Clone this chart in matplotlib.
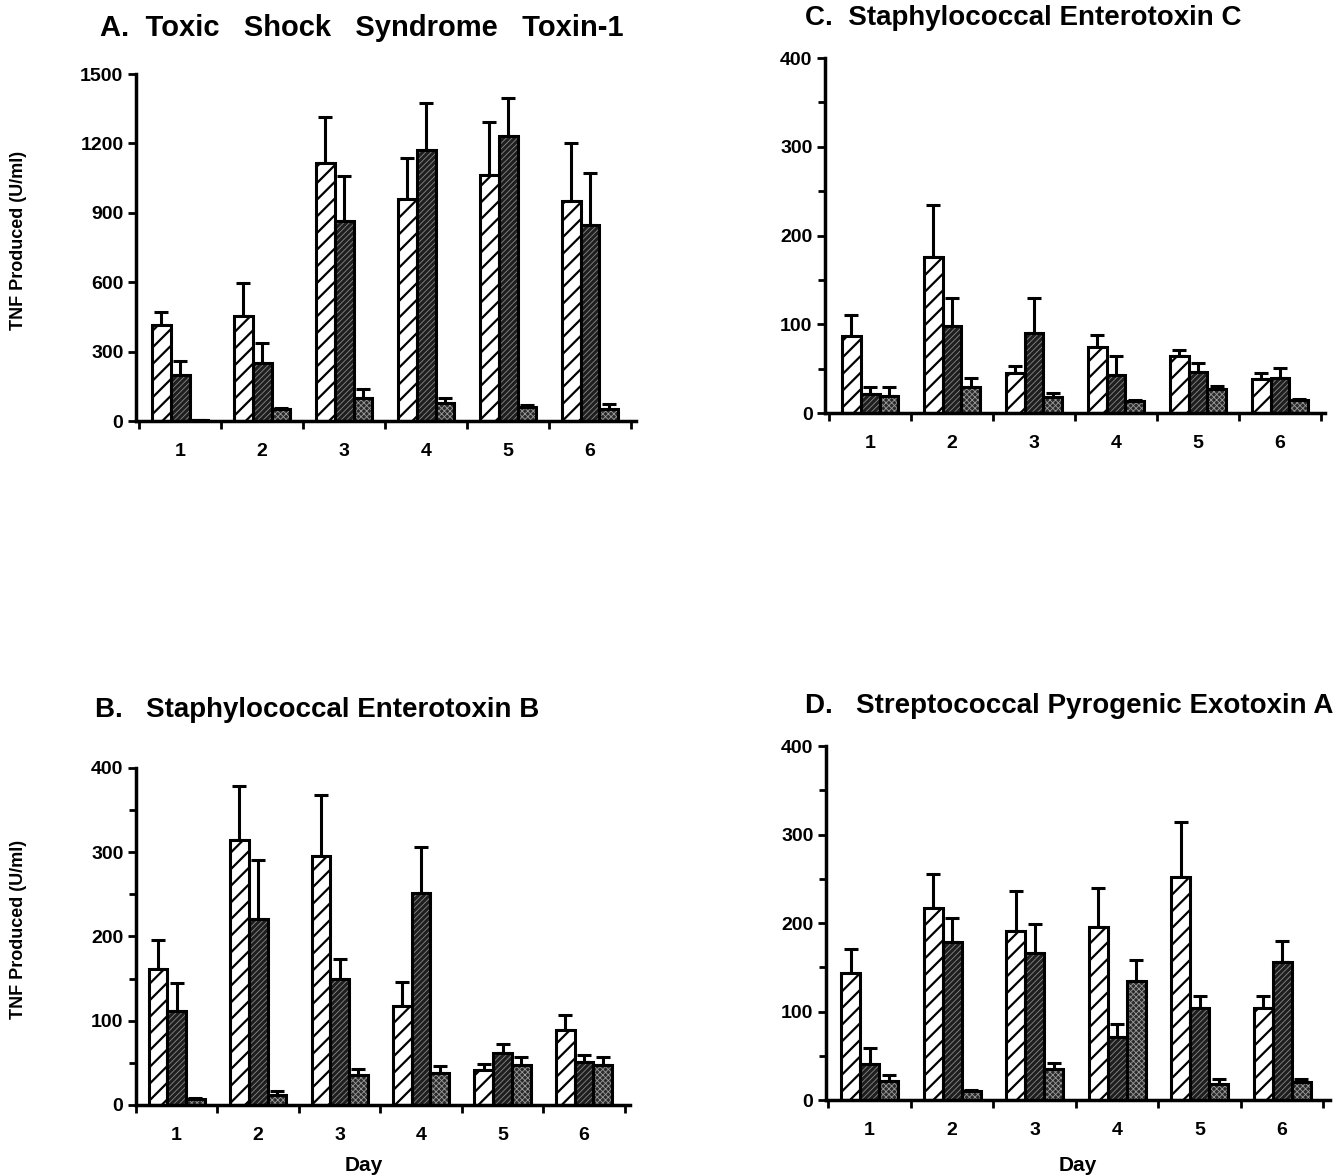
import matplotlib.pyplot as plt
import numpy as np

plt.rcParams['font.family'] = ['Liberation Sans', 'DejaVu Sans']
plt.rcParams['font.weight'] = 'bold'

days = [1, 2, 3, 4, 5, 6]

# A. TSST-1
a_white = [413, 456, 1116, 959, 1062, 952]
a_white_err = [58, 141, 200, 179, 231, 251]
a_dark = [200, 251, 865, 1171, 1232, 848]
a_dark_err = [58, 87, 193, 203, 164, 222]
a_dot = [6, 51, 99, 77, 62, 54]
a_dot_err = [0, 7, 39, 24, 6, 18]

# C. SEC
c_white = [87, 176, 45, 74, 64, 38]
c_white_err = [23, 58, 8, 14, 7, 7]
c_dark = [21, 98, 90, 43, 46, 39]
c_dark_err = [8, 32, 40, 21, 10, 12]
c_dot = [19, 29, 18, 14, 27, 15]
c_dot_err = [10, 10, 5, 1, 3, 1]

# B. SEB
b_white = [161, 315, 296, 118, 41, 89]
b_white_err = [35, 64, 72, 28, 8, 18]
b_dark = [111, 221, 149, 252, 62, 51]
b_dark_err = [34, 70, 24, 54, 10, 8]
b_dot = [7, 12, 36, 38, 47, 47]
b_dot_err = [1, 5, 7, 8, 10, 10]

# D. SPEA
d_white = [143, 217, 191, 196, 252, 104]
d_white_err = [28, 38, 45, 44, 62, 13]
d_dark = [41, 179, 166, 71, 104, 156]
d_dark_err = [18, 27, 33, 15, 14, 24]
d_dot = [21, 10, 35, 135, 18, 20]
d_dot_err = [7, 1, 7, 23, 6, 4]

fig = plt.figure(figsize=(13.38, 11.75), dpi=100)

w = 0.23


def panel(rect, xlim, ymax, yticks, minor, series):
    ax = fig.add_axes(rect)
    x = np.array(days)
    styles = [
        dict(face='white', hatch='//', hcol='black'),
        dict(face='#1e1e1e', hatch='//////', hcol='#8a8a8a'),
        dict(face='#2a2a2a', hatch='xxxxxx', hcol='#9a9a9a'),
    ]
    for k, ((vals, errs), st) in enumerate(zip(series, styles)):
        xs = x + (k - 1) * w
        with plt.rc_context({'hatch.linewidth': 1.6 if k == 0 else 0.6}):
            ax.bar(xs, vals, w, color=st['face'], edgecolor=st['hcol'],
                   hatch=st['hatch'], linewidth=0, zorder=2)
        ax.bar(xs, vals, w, fill=False, edgecolor='black', linewidth=2.2, zorder=3)
        ax.errorbar(xs, vals, yerr=[np.zeros(len(errs)), errs], fmt='none',
                    ecolor='black', elinewidth=2.2, capsize=5, capthick=2.2, zorder=1)
    ax.set_xlim(*xlim)
    ax.set_ylim(0, ymax)
    ax.set_yticks(yticks)
    if minor:
        ax.set_yticks(np.arange(0, ymax + 1, minor), minor=True)
    ax.set_xticks(days)
    ax.set_xticks(np.arange(0.5, 7, 1.0), minor=True)
    ax.tick_params(axis='x', which='major', length=0, pad=16, labelsize=14)
    ax.tick_params(axis='x', which='minor', length=6, width=2, direction='out')
    ax.tick_params(axis='y', which='major', length=6, width=2, direction='out', pad=3, labelsize=14)
    ax.tick_params(axis='y', which='minor', length=5, width=2, direction='out')
    for s in ['top', 'right']:
        ax.spines[s].set_visible(False)
    for s in ['left', 'bottom']:
        ax.spines[s].set_linewidth(2.5)
    return ax


panel([0.1016, 0.6417, 0.3737, 0.2953], (0.46, 6.56), 1500,
      [0, 300, 600, 900, 1200, 1500], None,
      [(a_white, a_white_err), (a_dark, a_dark_err), (a_dot, a_dot_err)])
panel([0.6166, 0.6485, 0.3737, 0.3021], (0.45, 6.55), 400,
      [0, 100, 200, 300, 400], 50,
      [(c_white, c_white_err), (c_dark, c_dark_err), (c_dot, c_dot_err)])
panel([0.1016, 0.0596, 0.3690, 0.2868], (0.54, 6.56), 400,
      [0, 100, 200, 300, 400], 50,
      [(b_white, b_white_err), (b_dark, b_dark_err), (b_dot, b_dot_err)])
panel([0.6173, 0.0638, 0.3767, 0.3013], (0.47, 6.58), 400,
      [0, 100, 200, 300, 400], 50,
      [(d_white, d_white_err), (d_dark, d_dark_err), (d_dot, d_dot_err)])

fig.text(0.0747, 0.976, 'A.  Toxic   Shock   Syndrome   Toxin-1', fontsize=21, va='center')
fig.text(0.6016, 0.985, 'C.  Staphylococcal Enterotoxin C', fontsize=20, va='center')
fig.text(0.0710, 0.396, 'B.   Staphylococcal Enterotoxin B', fontsize=20, va='center')
fig.text(0.6016, 0.399, 'D.   Streptococcal Pyrogenic Exotoxin A', fontsize=20, va='center')

fig.text(0.0135, 0.7957, 'TNF Produced (U/ml)', rotation=90, fontsize=13, va='center', ha='center')
fig.text(0.0135, 0.209, 'TNF Produced (U/ml)', rotation=90, fontsize=13, va='center', ha='center')
fig.text(0.272, 0.0085, 'Day', fontsize=15, ha='center', va='center')
fig.text(0.8057, 0.0085, 'Day', fontsize=15, ha='center', va='center')

fig.savefig('out.png', dpi=100)
